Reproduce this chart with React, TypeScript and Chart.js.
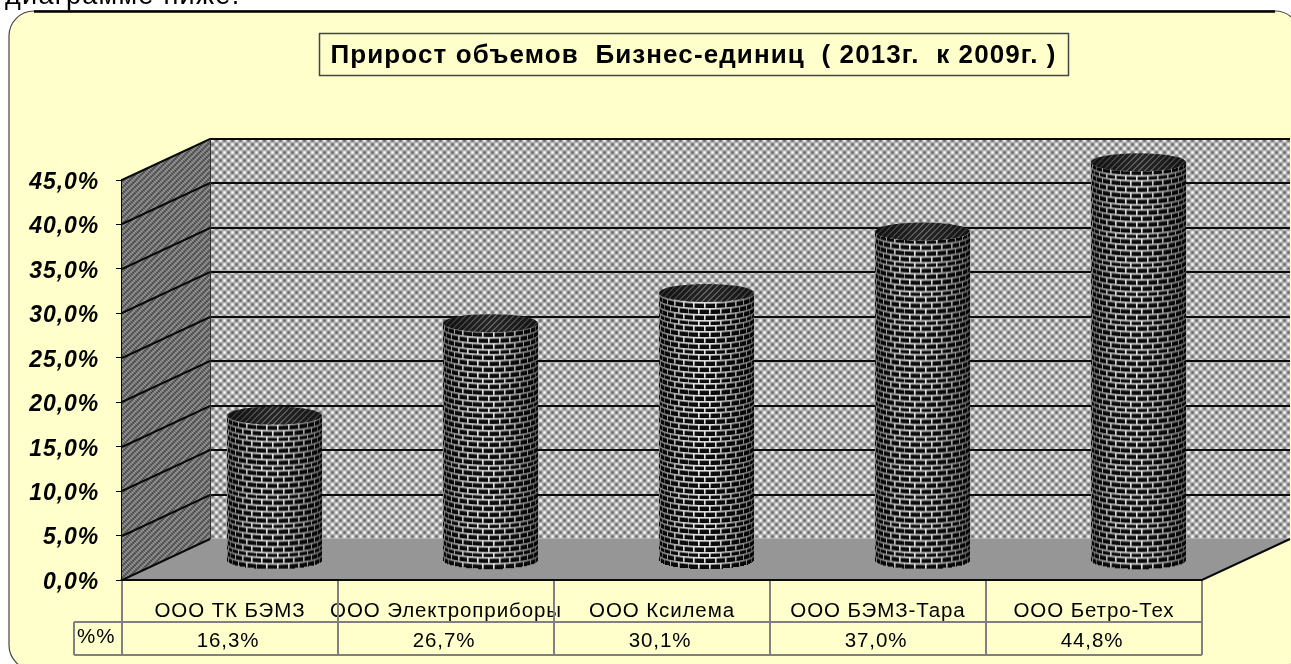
import React, { useEffect, useRef } from "react";
import { Chart, registerables } from "chart.js";

Chart.register(...registerables);

const categories = ["ООО ТК БЭМЗ", "ООО Электроприборы", "ООО Ксилема", "ООО БЭМЗ-Тара", "ООО Бетро-Тех"];
const growthPercent = [16.3, 26.7, 30.1, 37.0, 44.8];
const seriesName = "%%";
const chartTitle = "Прирост объемов  Бизнес-единиц  ( 2013г.  к 2009г. )";
const pageText = "диаграмме ниже.";

const FONT = '"Liberation Sans", Arial, sans-serif';
const DEPTH_X = 88;
const DEPTH_Y = 41;
const CREAM = "#FFFFCC";
const fmt = (v: number) => v.toFixed(1).replace(".", ",") + "%";

function tile(w: number, h: number, f: (x: number, y: number) => number) {
  const c = document.createElement("canvas");
  c.width = w;
  c.height = h;
  const ctx = c.getContext("2d")!;
  const img = ctx.createImageData(w, h);
  for (let y = 0; y < h; y++)
    for (let x = 0; x < w; x++) {
      const v = f(x, y);
      const i = (y * w + x) * 4;
      img.data[i] = img.data[i + 1] = img.data[i + 2] = v;
      img.data[i + 3] = 255;
    }
  ctx.putImageData(img, 0, 0);
  return c;
}

function brickTexture(w: number, h: number) {
  const c = document.createElement("canvas");
  c.width = w;
  c.height = h;
  const ctx = c.getContext("2d")!;
  ctx.fillStyle = "#0c0c0c";
  ctx.fillRect(0, 0, w, h);
  ctx.fillStyle = "#f4f4f4";
  const rowH = 5.8;
  const brickW = 11;
  let row = 0;
  for (let y = h; y > -rowH; y -= rowH, row++) {
    ctx.fillRect(0, Math.round(y), w, 1.6);
    for (let x = row % 2 ? brickW / 2 : 0; x < w; x += brickW) {
      ctx.fillRect(Math.round(x), Math.round(y - rowH), 1.6, rowH);
    }
  }
  return c;
}

const scene = {
  id: "scene",
  beforeDraw(chart: any) {
    const { ctx } = chart;
    ctx.save();
    ctx.fillStyle = "#fff";
    ctx.fillRect(0, 0, chart.width, chart.height);
    ctx.fillStyle = "#000";
    ctx.font = `27px ${FONT}`;
    ctx.letterSpacing = "1.3px";
    ctx.textBaseline = "alphabetic";
    ctx.textAlign = "left";
    ctx.fillText(pageText, 5, 4);
    ctx.letterSpacing = "0px";
    ctx.beginPath();
    ctx.roundRect(9, 11, 1291, 659, 25);
    ctx.fillStyle = CREAM;
    ctx.fill();
    ctx.lineWidth = 1.2;
    ctx.strokeStyle = "#444";
    ctx.stroke();
    ctx.lineWidth = 2.5;
    ctx.strokeStyle = "#000";
    ctx.beginPath();
    ctx.moveTo(34, 11.5);
    ctx.lineTo(1275, 11.5);
    ctx.stroke();
    ctx.restore();
    // tick labels share the wide look of the source image
    ctx.letterSpacing = "0.9px";
  },
  beforeDatasetsDraw(chart: any) {
    const { ctx, chartArea: a, scales } = chart;
    const y = scales.y;
    const y0 = y.getPixelForValue(0);
    const yMax = y.getPixelForValue(y.max);
    const xb = a.left + DEPTH_X;
    const xr = a.right + DEPTH_X;
    ctx.save();
    // value-axis labels, from the axis' own ticks
    ctx.fillStyle = "#000";
    ctx.font = `italic bold 23px ${FONT}`;
    ctx.letterSpacing = "0.9px";
    ctx.textAlign = "right";
    ctx.textBaseline = "middle";
    y.ticks.forEach((t: any) => {
      ctx.fillText(fmt(t.value), 99, y.getPixelForValue(t.value) + 2.5);
    });
    // back wall
    const back = tile(8, 8, (px, py) => {
      const v = Math.cos((2 * Math.PI * px) / 8) * Math.cos((2 * Math.PI * py) / 8);
      return 176 + 72 * v;
    });
    ctx.fillStyle = ctx.createPattern(back, "repeat");
    ctx.fillRect(xb, yMax - DEPTH_Y, xr - xb, y0 - yMax);
    // side wall
    const side = tile(6, 6, (px, py) => {
      return 112 + 30 * Math.cos((2 * Math.PI * (px + py)) / 6) + 22 * Math.cos((2 * Math.PI * (px - py)) / 3);
    });
    ctx.fillStyle = ctx.createPattern(side, "repeat");
    ctx.beginPath();
    ctx.moveTo(a.left, y0);
    ctx.lineTo(a.left, yMax);
    ctx.lineTo(xb, yMax - DEPTH_Y);
    ctx.lineTo(xb, y0 - DEPTH_Y);
    ctx.closePath();
    ctx.fill();
    // floor
    ctx.fillStyle = "#969696";
    ctx.beginPath();
    ctx.moveTo(a.left, y0);
    ctx.lineTo(xb, y0 - DEPTH_Y);
    ctx.lineTo(xr, y0 - DEPTH_Y);
    ctx.lineTo(a.right, y0);
    ctx.closePath();
    ctx.fill();
    // grid lines
    ctx.strokeStyle = "#0a0a0a";
    ctx.lineWidth = 2;
    y.ticks.forEach((t: any) => {
      if (t.value === 0) return;
      const py = Math.round(y.getPixelForValue(t.value));
      ctx.beginPath();
      ctx.moveTo(a.left, py);
      ctx.lineTo(xb, py - DEPTH_Y);
      ctx.lineTo(xr, py - DEPTH_Y);
      ctx.stroke();
    });
    ctx.lineWidth = 1;
    ctx.strokeStyle = "#333";
    ctx.beginPath();
    ctx.moveTo(xb + 0.5, yMax - DEPTH_Y);
    ctx.lineTo(xb + 0.5, y0 - DEPTH_Y);
    ctx.stroke();
    // floor edges
    ctx.strokeStyle = "#0a0a0a";
    ctx.lineWidth = 2;
    ctx.beginPath();
    ctx.moveTo(xb, y0 - DEPTH_Y);
    ctx.lineTo(a.left, y0);
    ctx.lineTo(a.right, y0);
    ctx.lineTo(xr, y0 - DEPTH_Y);
    ctx.stroke();
    // data table
    ctx.strokeStyle = "#808080";
    ctx.lineWidth = 2;
    const xs = scales.x;
    const step = (a.right - a.left) / categories.length;
    const rowTop = y0 + 42;
    const rowBottom = y0 + 75;
    const tableLeft = 74;
    ctx.beginPath();
    for (let i = 0; i <= categories.length; i++) {
      const px = Math.round(a.left + i * step);
      ctx.moveTo(px, y0 + 1);
      ctx.lineTo(px, rowBottom);
    }
    ctx.moveTo(tableLeft, rowTop);
    ctx.lineTo(a.right, rowTop);
    ctx.moveTo(tableLeft, rowBottom);
    ctx.lineTo(a.right, rowBottom);
    ctx.moveTo(tableLeft, rowTop);
    ctx.lineTo(tableLeft, rowBottom);
    ctx.stroke();
    ctx.fillStyle = "#000";
    ctx.font = `20.5px ${FONT}`;
    ctx.letterSpacing = "0.9px";
    ctx.textBaseline = "middle";
    ctx.textAlign = "center";
    growthPercent.forEach((v, i) => {
      ctx.fillText(fmt(v), xs.getPixelForValue(i) - 2, (rowTop + rowBottom) / 2 + 3);
    });
    ctx.textAlign = "left";
    ctx.fillText(seriesName, tableLeft + 3, rowTop + 15);
    // title box
    ctx.fillStyle = CREAM;
    ctx.fillRect(319.5, 33.5, 749, 42);
    ctx.strokeStyle = "#444";
    ctx.lineWidth = 1.5;
    ctx.strokeRect(319.5, 33.5, 749, 42);
    ctx.fillStyle = "#000";
    ctx.font = `bold 26px ${FONT}`;
    ctx.letterSpacing = "1.1px";
    ctx.textAlign = "center";
    ctx.fillText(chartTitle, 693.5, 56);
    ctx.restore();
  },
  afterDatasetsDraw(chart: any) {
    const { ctx } = chart;
    const meta = chart.getDatasetMeta(0);
    const cx = DEPTH_X / 2;
    const cy = 19.5;
    const tex = brickTexture(150, 500);
    const capTile = tile(6, 6, (px, py) => ((px + py) % 6 < 2 ? 105 : 40));
    ctx.save();
    ctx.filter = "blur(0.45px)";
    meta.data.forEach((bar: any) => {
      const rx = bar.width / 2;
      const ry = 9;
      const x = bar.x + cx;
      const top = bar.y - cy;
      const base = bar.base - cy;
      const w = Math.round(rx * 2);
      const left = Math.round(x - rx);
      const h = base - top;
      // draw the body on its own layer, so the brick rows can follow the curve
      const layer = document.createElement("canvas");
      layer.width = w + 4;
      layer.height = Math.ceil(h + ry * 2 + 4);
      const l = layer.getContext("2d")!;
      for (let i = 0; i < w; i++) {
        const t = ((i + 0.5) / w) * 2 - 1;
        const dy = ry * Math.sqrt(1 - t * t);
        const u = ((Math.asin(t) + Math.PI / 2) / Math.PI) * 149;
        l.drawImage(tex, Math.floor(u), 500 - h, 1, h, i + 2, ry + 2 + dy, 1, h);
      }
      l.globalCompositeOperation = "source-atop";
      const g = l.createLinearGradient(2, 0, w + 2, 0);
      g.addColorStop(0, "rgba(0,0,0,0.5)");
      g.addColorStop(0.3, "rgba(0,0,0,0.05)");
      g.addColorStop(0.55, "rgba(0,0,0,0.05)");
      g.addColorStop(1, "rgba(0,0,0,0.55)");
      l.fillStyle = g;
      l.fillRect(0, 0, layer.width, layer.height);
      ctx.drawImage(layer, left - 2, top - ry - 2);
      // cap
      ctx.beginPath();
      ctx.ellipse(left + rx, top, rx, ry, 0, 0, Math.PI * 2);
      ctx.fillStyle = ctx.createPattern(capTile, "repeat");
      ctx.fill();
      const gc = ctx.createLinearGradient(left, 0, left + w, 0);
      gc.addColorStop(0, "rgba(0,0,0,0.6)");
      gc.addColorStop(0.5, "rgba(0,0,0,0.05)");
      gc.addColorStop(1, "rgba(0,0,0,0.5)");
      ctx.fillStyle = gc;
      ctx.fill();
    });
    ctx.restore();
  },
};

export default function App() {
  const ref = useRef<HTMLCanvasElement>(null);
  useEffect(() => {
    const chart = new Chart(ref.current!, {
      type: "bar",
      data: {
        labels: categories,
        datasets: [
          {
            label: seriesName,
            data: growthPercent,
            backgroundColor: "rgba(0,0,0,0)",
            borderWidth: 0,
            barThickness: 95,
          },
        ],
      },
      options: {
        responsive: false,
        animation: false,
        events: [],
        layout: { padding: { left: 0, top: 180, right: 89, bottom: 0 } },
        plugins: { legend: { display: false }, title: { display: false }, tooltip: { enabled: false } },
        scales: {
          x: {
            afterFit: (s: any) => {
              s.height = 84;
            },
            grid: { display: false },
            border: { display: false },
            ticks: {
              color: "#000",
              font: { family: FONT, size: 20.5 },
              padding: 11,
              autoSkip: false,
              maxRotation: 0,
              minRotation: 0,
            },
          },
          y: {
            min: 0,
            max: 45,
            afterFit: (s: any) => {
              s.width = 122;
            },
            grid: { drawOnChartArea: false, drawTicks: true, tickLength: 6, color: "#000", lineWidth: 1 },
            border: { display: true, color: "#000", width: 2 },
            ticks: {
              stepSize: 5,
              display: false,
            },
          },
        },
      },
      plugins: [scene],
    } as any);
    return () => chart.destroy();
  }, []);
  return (
    <canvas
      ref={ref}
      width={1291}
      height={664}
      style={{ position: "fixed", left: 0, top: 0, display: "block", width: 1291, height: 664 }}
    />
  );
}
